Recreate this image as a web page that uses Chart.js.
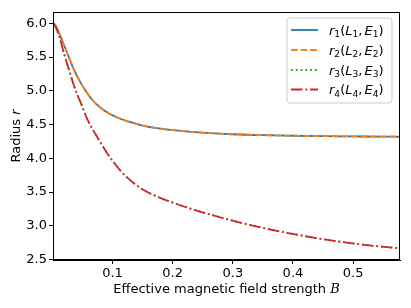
<!DOCTYPE html>
<html><head><meta charset="utf-8">
<script src="https://cdn.jsdelivr.net/npm/chart.js@4"></script>
<style>html,body{margin:0;padding:0;background:#fff}canvas{display:block}</style>
</head><body>
<canvas id="c" width="411" height="308"></canvas>
<script>
// ---- data ----
const xUpper = [0.001, 0.005, 0.009, 0.017, 0.026, 0.035, 0.045, 0.056, 0.067, 0.08, 0.095, 0.112, 0.13, 0.15, 0.18, 0.21, 0.25, 0.3, 0.35, 0.4, 0.45, 0.5, 0.55, 0.578];
const r1 = [6.0, 5.97, 5.90, 5.73, 5.53, 5.33, 5.15, 4.99, 4.86, 4.75, 4.66, 4.59, 4.535, 4.485, 4.44, 4.41, 4.38, 4.357, 4.343, 4.335, 4.329, 4.325, 4.321, 4.32];
const r2 = [6.0, 5.97, 5.90, 5.73, 5.53, 5.33, 5.15, 4.99, 4.86, 4.75, 4.66, 4.59, 4.535, 4.485, 4.44, 4.41, 4.38, 4.357, 4.343, 4.335, 4.329, 4.325, 4.321, 4.32];
const xLower = [0.001, 0.005, 0.0117, 0.02, 0.028, 0.035, 0.042, 0.05, 0.058, 0.067, 0.075, 0.09, 0.1, 0.118, 0.135, 0.151, 0.179, 0.2, 0.235, 0.29, 0.346, 0.402, 0.458, 0.513, 0.578];
const r3 = [6.0, 5.95, 5.80, 5.53, 5.30, 5.10, 4.93, 4.76, 4.58, 4.43, 4.31, 4.09, 3.965, 3.77, 3.635, 3.535, 3.415, 3.345, 3.24, 3.10, 2.978, 2.877, 2.792, 2.726, 2.666];
const r4 = [6.0, 5.95, 5.80, 5.53, 5.30, 5.10, 4.93, 4.76, 4.58, 4.43, 4.31, 4.09, 3.965, 3.77, 3.635, 3.535, 3.415, 3.345, 3.24, 3.10, 2.978, 2.877, 2.792, 2.726, 2.666];
const xTicks = [0.1, 0.2, 0.3, 0.4, 0.5];
const yTicks = [2.5, 3.0, 3.5, 4.0, 4.5, 5.0, 5.5, 6.0];
const seriesNames = [["r","1","L","1","E","1"],["r","2","L","2","E","2"],["r","3","L","3","E","3"],["r","4","L","4","E","4"]];

const FONT = "'DejaVu Sans', sans-serif";
const LW = 1.8;
const pts = (xs, ys) => xs.map((x, i) => ({x, y: ys[i]}));

const datasets = [
  {data: pts(xUpper, r1), borderColor: '#1f77b4', borderDash: [], order: 4},
  {data: pts(xUpper, r2), borderColor: '#ff7f0e', borderDash: [3.7*LW, 1.6*LW], order: 3},
  {data: pts(xLower, r3), borderColor: '#2ca02c', borderDash: [1*LW, 1.65*LW], order: 2},
  {data: pts(xLower, r4), borderColor: '#d62728', borderDash: [6.4*LW, 1.6*LW, 1*LW, 1.6*LW], order: 1},
].map(d => Object.assign(d, {borderWidth: LW, pointRadius: 0, fill: false, cubicInterpolationMode: 'monotone', borderCapStyle: 'butt'}));

function drawMath(ctx, x, y, name, size) {
  const segs = [
    [name[0], 'it'], [name[1], 'sub'], ['(', 'rm'], [name[2], 'it'], [name[3], 'sub'],
    [',', 'rm'], [' ', 'gap'], [name[4], 'it'], [name[5], 'sub'], [')', 'rm']
  ];
  ctx.textBaseline = 'alphabetic';
  ctx.textAlign = 'left';
  let cx = x;
  for (const [t, s] of segs) {
    if (s === 'gap') { cx += size * 0.17; continue; }
    let f, dy = 0;
    if (s === 'it') f = `italic ${size}px ${FONT}`;
    else if (s === 'sub') { f = `${size * 0.7}px ${FONT}`; dy = size * 0.2; }
    else f = `${size}px ${FONT}`;
    ctx.font = f;
    ctx.fillText(t, cx, y + dy);
    cx += ctx.measureText(t).width;
  }
}

const decor = {
  id: 'decor',
  afterDraw(chart) {
    const ctx = chart.ctx, a = chart.chartArea;
    ctx.save();
    ctx.strokeStyle = '#000'; ctx.lineWidth = 1;
    ctx.strokeRect(Math.round(a.left) + 0.5, Math.round(a.top) + 0.5, Math.round(a.right - a.left) - 1, Math.round(a.bottom - a.top) - 1);
    ctx.fillStyle = '#000';
    ctx.textBaseline = 'alphabetic';
    const size = 13;
    ctx.font = `${size}px ${FONT}`;
    const t1 = 'Effective magnetic field strength ';
    const w1 = ctx.measureText(t1).width;
    ctx.font = `italic ${size}px 'DejaVu Serif', serif`;
    const t2 = 'B';
    const w2 = ctx.measureText(t2).width;
    let sx = (a.left + a.right) / 2 - (w1 + w2) / 2;
    ctx.font = `${size}px ${FONT}`; ctx.textAlign = 'left';
    ctx.fillText(t1, sx, 293);
    ctx.font = `italic ${size}px 'DejaVu Serif', serif`;
    ctx.fillText(t2, sx + w1, 293);
    ctx.save();
    ctx.translate(20, (a.top + a.bottom) / 2);
    ctx.rotate(-Math.PI / 2);
    ctx.font = `${size}px ${FONT}`;
    const y1 = 'Radius ';
    const wy1 = ctx.measureText(y1).width;
    ctx.font = `italic ${size}px ${FONT}`;
    const wy2 = ctx.measureText('r').width;
    const st = -(wy1 + wy2) / 2;
    ctx.font = `${size}px ${FONT}`;
    ctx.fillText(y1, st, 0);
    ctx.font = `italic ${size}px ${FONT}`;
    ctx.fillText('r', st + wy1, 0);
    ctx.restore();
    const bx = 287, by = 18, bw = 105, bh = 85, rr = 3;
    ctx.beginPath();
    ctx.moveTo(bx + rr, by); ctx.lineTo(bx + bw - rr, by); ctx.quadraticCurveTo(bx + bw, by, bx + bw, by + rr);
    ctx.lineTo(bx + bw, by + bh - rr); ctx.quadraticCurveTo(bx + bw, by + bh, bx + bw - rr, by + bh);
    ctx.lineTo(bx + rr, by + bh); ctx.quadraticCurveTo(bx, by + bh, bx, by + bh - rr);
    ctx.lineTo(bx, by + rr); ctx.quadraticCurveTo(bx, by, bx + rr, by);
    ctx.closePath();
    ctx.fillStyle = 'rgba(255,255,255,0.8)'; ctx.fill();
    ctx.strokeStyle = '#cccccc'; ctx.lineWidth = 1; ctx.stroke();
    const rows = [30, 50, 70, 89.5];
    chart.data.datasets.forEach((d, i) => {
      const ry = rows[i];
      ctx.beginPath();
      ctx.setLineDash(d.borderDash || []);
      ctx.strokeStyle = d.borderColor; ctx.lineWidth = LW; ctx.lineCap = 'butt';
      ctx.moveTo(291, ry); ctx.lineTo(318, ry); ctx.stroke();
      ctx.setLineDash([]);
      ctx.fillStyle = '#000';
      drawMath(ctx, 329, ry + 4.5, seriesNames[i], 13);
    });
    ctx.restore();
  }
};

const tickFont = {family: FONT, size: 13};
new Chart(document.getElementById('c'), {
  type: 'line',
  data: {datasets},
  options: {
    responsive: false, animation: false, devicePixelRatio: 1,
    layout: {padding: {left: 0, right: 11, top: 12, bottom: 0}},
    plugins: {legend: {display: false}, tooltip: {enabled: false}},
    scales: {
      x: {
        type: 'linear', min: 0.001, max: 0.578,
        afterBuildTicks: s => { s.ticks = xTicks.map(v => ({value: v})); },
        afterFit: s => { s.height = 48; },
        ticks: {font: tickFont, color: '#000', padding: 2, maxRotation: 0, autoSkip: false, callback: v => v.toFixed(1)},
        grid: {drawOnChartArea: false, drawTicks: true, tickLength: 4, color: '#000', tickWidth: 1},
        border: {display: true, color: '#000', width: 1}
      },
      y: {
        type: 'linear', min: 2.495, max: 6.167,
        afterBuildTicks: s => { s.ticks = yTicks.map(v => ({value: v})); },
        afterFit: s => { s.width = 53; },
        ticks: {font: tickFont, color: '#000', padding: 2, autoSkip: false, callback: v => v.toFixed(1)},
        grid: {drawOnChartArea: false, drawTicks: true, tickLength: 4, color: '#000', tickWidth: 1},
        border: {display: true, color: '#000', width: 1}
      }
    }
  },
  plugins: [decor]
});
</script>
</body></html>
